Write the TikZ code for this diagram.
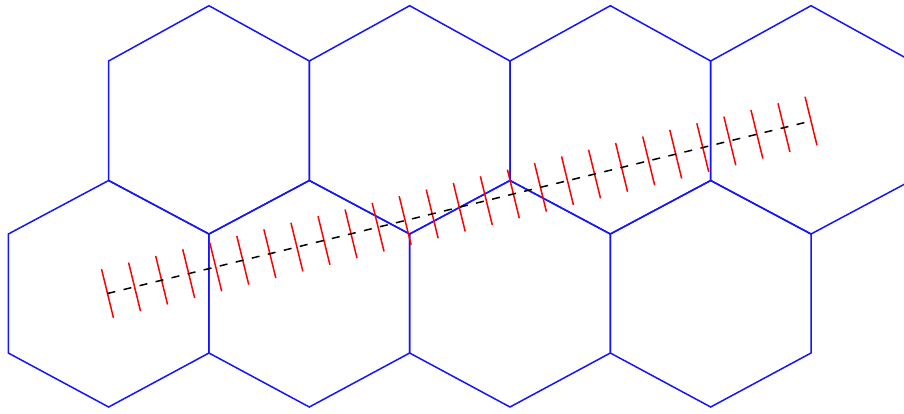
\documentclass[tikz,border=0pt]{standalone}
\tikzset{
  hexedge/.style={draw={rgb,255:red,20;green,20;blue,255}, line width=1.5pt, line join=miter},
  redtick/.style={draw={rgb,255:red,255;green,0;blue,0}, line width=1.5pt},
  dashline/.style={draw=black, line width=1.5pt, dash pattern=on 8pt off 8.5pt}
}
\begin{document}
\begin{tikzpicture}[x=1pt,y=-1pt]
\useasboundingbox (0,0) rectangle (904,413);
\def\w{100.34}
% upper row of hexagons
\foreach \k in {2,4,6,8} {
  \pgfmathsetmacro\cx{8.3+\w*\k}
  \draw[hexedge] (\cx,5.7) -- (\cx+\w,61) -- (\cx+\w,180.5) -- (\cx,234)
    -- (\cx-\w,180.5) -- (\cx-\w,61) -- cycle;
}
% lower row of hexagons
\foreach \k in {1,3,5,7} {
  \pgfmathsetmacro\cx{8.3+\w*\k}
  \draw[hexedge] (\cx,180.5) -- (\cx+\w,234) -- (\cx+\w,353) -- (\cx,407)
    -- (\cx-\w,353) -- (\cx-\w,234) -- cycle;
}
% red ticks
\foreach \i in {0,...,26} {
  \coordinate (c\i) at (107.5+27.058*\i, 293.5-6.635*\i);
  \draw[redtick] ([shift={(-5.95,-24.3)}]c\i) -- ([shift={(5.95,24.3)}]c\i);
}
% dashed line
\draw[dashline] (c0) -- (c26);
\end{tikzpicture}
\end{document}
